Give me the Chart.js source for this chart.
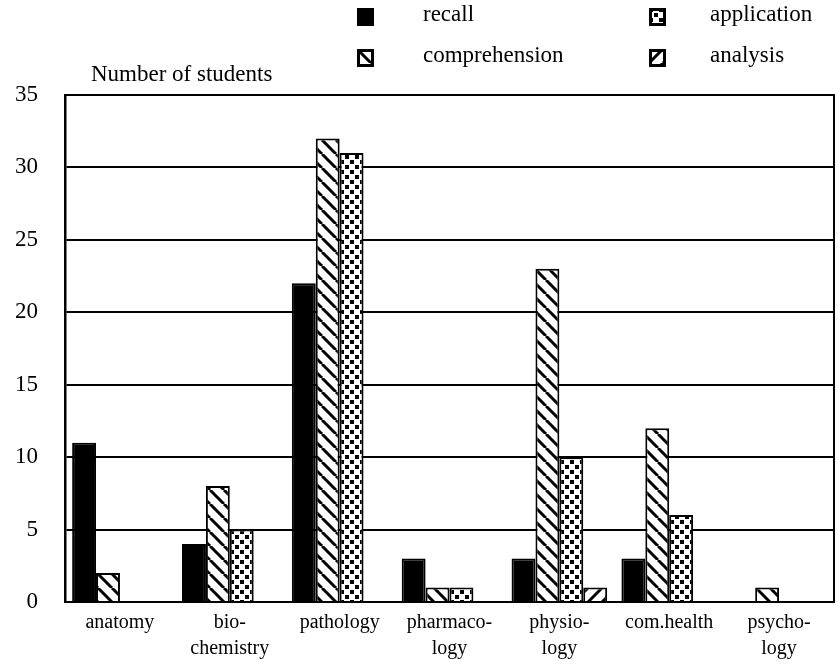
<!DOCTYPE html>
<html>
<head>
<meta charset="utf-8">
<script src="https://cdn.jsdelivr.net/npm/chart.js@4"></script>
<style>
  html, body { margin: 0; padding: 0; background: #fff; }
  #wrap { position: relative; width: 839px; height: 664px; }
  #legend { position: absolute; left: 0; top: 0; font-family: "Liberation Serif", serif; font-size: 23px; color: #000; }
  .item { position: absolute; }
  .item canvas { display: block; }
  .item span { position: absolute; white-space: nowrap; }
</style>
</head>
<body>
<div id="wrap">
  <canvas id="chart" width="839" height="664"></canvas>
  <div id="legend"></div>
</div>
<script>
const CATEGORIES = [
  "anatomy",
  ["bio-", "chemistry"],
  "pathology",
  ["pharmaco-", "logy"],
  ["physio-", "logy"],
  "com.health",
  ["psycho-", "logy"],
];

const RECALL = [11, 4, 22, 3, 3, 3, 0];
const COMPREHENSION = [2, 8, 32, 1, 23, 12, 1];
const APPLICATION = [0, 5, 31, 1, 10, 6, 0];
const ANALYSIS = [0, 0, 0, 0, 1, 0, 0];

const Y_TICKS = [0, 5, 10, 15, 20, 25, 30, 35];

const FONT = "Liberation Serif";

function stripePattern(dir) {
  const n = 14;
  const c = document.createElement("canvas");
  c.width = n;
  c.height = n;
  const g = c.getContext("2d");
  g.fillStyle = "#fff";
  g.fillRect(0, 0, n, n);
  g.strokeStyle = "#000";
  g.lineWidth = 3;
  g.beginPath();
  for (let k = -n; k <= 2 * n; k += n) {
    if (dir === "back") {
      g.moveTo(k, 0);
      g.lineTo(k + n, n);
    } else {
      g.moveTo(k + n, 0);
      g.lineTo(k, n);
    }
  }
  g.stroke();
  return g.createPattern(c, "repeat");
}

function dotPattern() {
  const c = document.createElement("canvas");
  c.width = 10;
  c.height = 10;
  const g = c.getContext("2d");
  g.fillStyle = "#fff";
  g.fillRect(0, 0, 10, 10);
  g.fillStyle = "#000";
  g.fillRect(0, 0, 4, 4);
  g.fillRect(5, 5, 4, 4);
  return g.createPattern(c, "repeat");
}

function patternFor(name) {
  if (name === "recall") return "#000";
  if (name === "comprehension") return stripePattern("back");
  if (name === "application") return dotPattern();
  return stripePattern("fwd");
}

const ctx = document.getElementById("chart").getContext("2d");

const SERIES = [
  { label: "recall", data: RECALL },
  { label: "comprehension", data: COMPREHENSION },
  { label: "application", data: APPLICATION },
  { label: "analysis", data: ANALYSIS },
];

const frame = {
  id: "frame",
  afterDraw(chart) {
    const { ctx, chartArea: a } = chart;
    ctx.save();
    ctx.strokeStyle = "#000";
    ctx.lineWidth = 2;
    ctx.strokeRect(a.left, a.top, a.right - a.left, a.bottom - a.top);
    ctx.fillStyle = "#000";
    ctx.font = `23px "${FONT}"`;
    ctx.textBaseline = "middle";
    ctx.fillText("Number of students", a.left + 26, a.top - 20);
    ctx.restore();
  },
};

new Chart(ctx, {
  type: "bar",
  data: {
    labels: CATEGORIES,
    datasets: SERIES.map((s) => ({
      label: s.label,
      data: s.data,
      backgroundColor: patternFor(s.label),
      borderColor: "#000",
      borderWidth: 2,
      borderSkipped: "bottom",
      categoryPercentage: 0.87,
      barPercentage: 1,
    })),
  },
  options: {
    responsive: false,
    animation: false,
    layout: { padding: { top: 95, right: 5, left: 0, bottom: 0 } },
    plugins: { legend: { display: false }, tooltip: { enabled: false } },
    scales: {
      x: {
        offset: true,
        grid: { display: false },
        border: { color: "#000", width: 2 },
        ticks: {
          color: "#000",
          font: { family: FONT, size: 20, lineHeight: 1.3 },
          maxRotation: 0,
          autoSkip: false,
          padding: 0,
        },
        afterFit(scale) { scale.height = 62; },
      },
      y: {
        min: 0,
        max: 35,
        afterBuildTicks(scale) { scale.ticks = Y_TICKS.map((v) => ({ value: v })); },
        grid: { color: "#000", lineWidth: 2, drawTicks: false },
        border: { color: "#000", width: 2.5 },
        ticks: {
          color: "#000",
          font: { family: FONT, size: 23 },
          padding: 27,
        },
        afterFit(scale) { scale.width = 65; },
      },
    },
  },
  plugins: [frame],
});

// legend, 2 x 2 like the original
const LEGEND_POS = [
  { x: 357, y: 8, tx: 423 },
  { x: 357, y: 49, tx: 423 },
  { x: 649, y: 8, tx: 710 },
  { x: 649, y: 49, tx: 710 },
];
const legend = document.getElementById("legend");
SERIES.forEach((s, i) => {
  const p = LEGEND_POS[i];
  const item = document.createElement("div");
  item.className = "item";
  item.style.left = p.x + "px";
  item.style.top = p.y + "px";
  const sw = document.createElement("canvas");
  sw.width = 17;
  sw.height = 18;
  const g = sw.getContext("2d");
  g.fillStyle = patternFor(s.label);
  g.fillRect(0, 0, 17, 18);
  g.strokeStyle = "#000";
  g.lineWidth = 3;
  g.strokeRect(1.5, 1.5, 14, 15);
  item.appendChild(sw);
  const t = document.createElement("span");
  t.textContent = s.label;
  t.style.left = (p.tx - p.x) + "px";
  t.style.top = "-7px";
  item.appendChild(t);
  legend.appendChild(item);
});
</script>
</body>
</html>
